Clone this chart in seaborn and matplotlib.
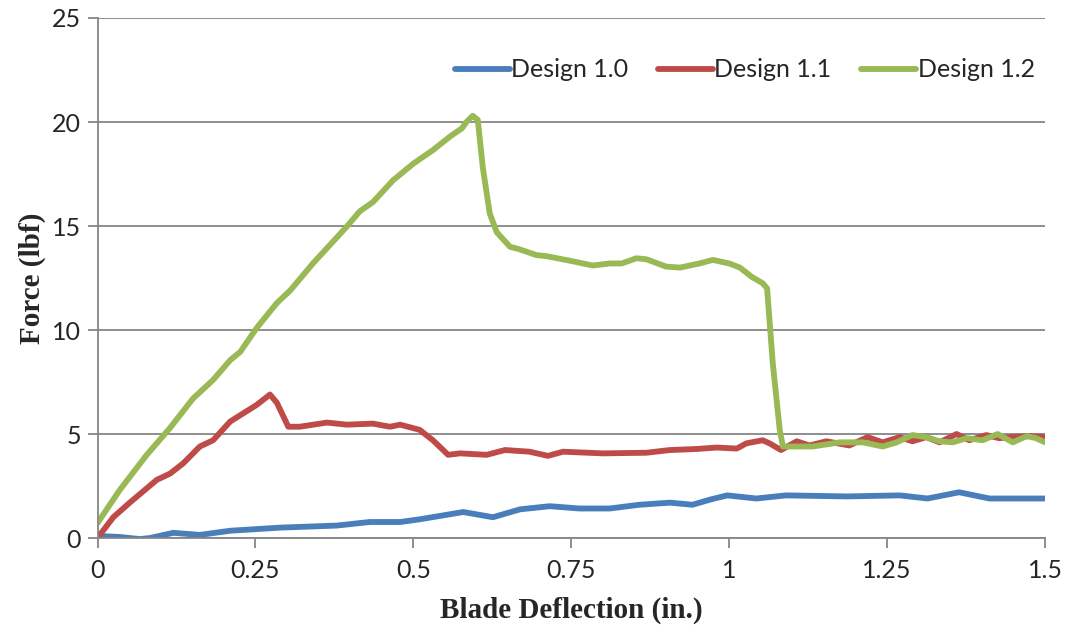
import numpy as np
import pandas as pd
import seaborn as sns
import matplotlib as mpl
mpl.use("Agg")
import matplotlib.pyplot as plt

# Design 1.0
x10 = [0, 0.035, 0.067, 0.083, 0.12, 0.162, 0.21, 0.289, 0.379, 0.431, 0.479, 0.51,
       0.579, 0.626, 0.669, 0.716, 0.763, 0.811, 0.858, 0.906, 0.942, 0.97, 0.997,
       1.043, 1.09, 1.186, 1.27, 1.314, 1.364, 1.412, 1.5]
y10 = [0.1, 0.05, -0.05, 0.0, 0.25, 0.15, 0.35, 0.5, 0.6, 0.77, 0.77, 0.9,
       1.25, 1.0, 1.38, 1.53, 1.42, 1.42, 1.6, 1.7, 1.6, 1.85, 2.05,
       1.9, 2.05, 2.0, 2.05, 1.9, 2.2, 1.9, 1.9]

# Design 1.1
x11 = [0, 0.025, 0.051, 0.094, 0.115, 0.136, 0.162, 0.183, 0.21, 0.231, 0.252, 0.273,
       0.284, 0.302, 0.32, 0.363, 0.395, 0.436, 0.463, 0.479, 0.51, 0.531, 0.555,
       0.574, 0.616, 0.645, 0.684, 0.713, 0.737, 0.8, 0.869, 0.906, 0.948, 0.98,
       1.012, 1.027, 1.053, 1.064, 1.082, 1.107, 1.127, 1.154, 1.19, 1.219, 1.243,
       1.27, 1.29, 1.312, 1.333, 1.36, 1.38, 1.407, 1.427, 1.449, 1.476, 1.5]
y11 = [0, 1.0, 1.7, 2.8, 3.1, 3.6, 4.4, 4.7, 5.6, 6.0, 6.4, 6.9,
       6.5, 5.35, 5.35, 5.55, 5.45, 5.5, 5.35, 5.45, 5.2, 4.7, 4.0,
       4.07, 4.0, 4.23, 4.15, 3.95, 4.15, 4.07, 4.1, 4.23, 4.28, 4.35,
       4.3, 4.55, 4.7, 4.55, 4.23, 4.65, 4.45, 4.65, 4.45, 4.85, 4.6,
       4.85, 4.65, 4.85, 4.6, 5.0, 4.7, 4.95, 4.8, 4.85, 4.9, 4.85]

# Design 1.2
x12 = [0, 0.035, 0.078, 0.115, 0.151, 0.183, 0.21, 0.226, 0.252, 0.284, 0.305, 0.341,
       0.394, 0.415, 0.436, 0.468, 0.5, 0.531, 0.558, 0.577, 0.584, 0.594, 0.602,
       0.61, 0.621, 0.632, 0.653, 0.666, 0.695, 0.711, 0.753, 0.784, 0.811, 0.83,
       0.853, 0.869, 0.9, 0.922, 0.953, 0.974, 1.0, 1.017, 1.036, 1.053, 1.06,
       1.069, 1.08, 1.085, 1.107, 1.132, 1.175, 1.212, 1.243, 1.265, 1.29, 1.312,
       1.333, 1.354, 1.376, 1.401, 1.425, 1.449, 1.471, 1.486, 1.5]
y12 = [0.72, 2.3, 4.0, 5.3, 6.7, 7.6, 8.55, 8.95, 10.1, 11.3, 11.9, 13.2,
       14.95, 15.7, 16.15, 17.2, 18.0, 18.65, 19.3, 19.7, 20.0, 20.3, 20.1,
       17.8, 15.6, 14.7, 14.0, 13.9, 13.6, 13.55, 13.3, 13.1, 13.2, 13.2,
       13.45, 13.4, 13.05, 13.0, 13.2, 13.37, 13.2, 13.0, 12.55, 12.25, 12.0,
       8.4, 5.2, 4.4, 4.4, 4.4, 4.6, 4.6, 4.4, 4.6, 4.95, 4.85,
       4.65, 4.6, 4.8, 4.7, 5.0, 4.6, 4.9, 4.8, 4.6]

series = [("Design 1.0", x10, y10, "#4A7EBB"),
          ("Design 1.1", x11, y11, "#BE4B48"),
          ("Design 1.2", x12, y12, "#98B954")]

xticks = [0, 0.25, 0.5, 0.75, 1, 1.25, 1.5]
xticklabels = ["0", "0.25", "0.5", "0.75", "1", "1.25", "1.5"]
yticks = [0, 5, 10, 15, 20, 25]

sns.set_style("white")
plt.rcParams['font.family'] = ['Lato', 'DejaVu Sans']

fig = plt.figure(figsize=(10.68, 6.27), dpi=100)
ax = fig.add_axes([0.0913, 0.1419, 0.8872, 0.8294])

for name, xs, ys, col in series:
    df = pd.DataFrame({"x": xs, "y": ys})
    sns.lineplot(data=df, x="x", y="y", ax=ax, color=col, lw=4.2, label=name,
                 sort=False, estimator=None)

ax.set_xlim(0, 1.5)
ax.set_ylim(0, 25)
ax.set_xticks(xticks)
ax.set_xticklabels(xticklabels)
ax.set_yticks(yticks)
ax.yaxis.grid(True, color="#868686", lw=1.3)
ax.set_axisbelow(True)
for s in ["top", "right"]:
    ax.spines[s].set_visible(False)
for s in ["left", "bottom"]:
    ax.spines[s].set_color("#868686")
    ax.spines[s].set_linewidth(1.3)
ax.tick_params(axis="both", which="major", labelsize=18, color="#868686",
               width=1.3, length=7, direction="out", bottom=True, left=True)
ax.tick_params(axis="x", pad=8)
ax.tick_params(axis="y", pad=5)

ax.set_xlabel("Blade Deflection (in.)", family="Liberation Serif",
              fontweight="bold", fontsize=21, labelpad=11)
ax.set_ylabel("Force (lbf)", family="Liberation Serif",
              fontweight="bold", fontsize=21, labelpad=4)

ax.legend(ncol=3, frameon=False, loc="center left", bbox_to_anchor=(0.377, 0.9),
          fontsize=18, handlelength=2.2, handletextpad=0.05, columnspacing=1.2,
          borderpad=0, borderaxespad=0)

plt.savefig("out.png", dpi=100)
